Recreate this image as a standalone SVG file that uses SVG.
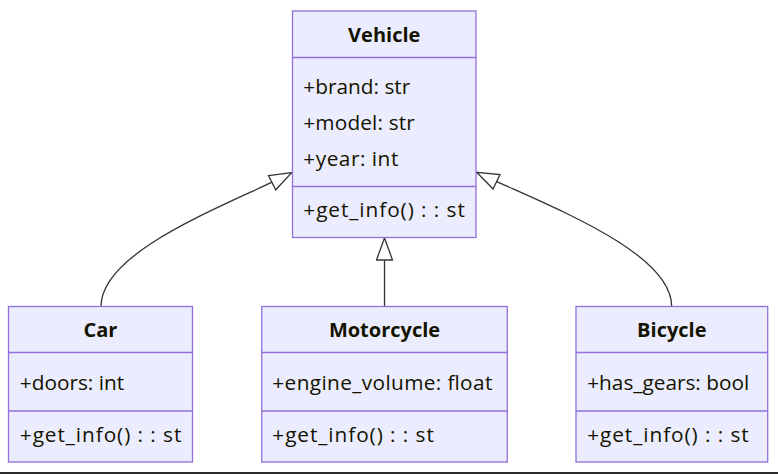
<svg xmlns="http://www.w3.org/2000/svg" width="778" height="474" viewBox="0 0 778 474">
<style>
  .box { fill: #ECECFF; stroke: #9370DB; stroke-width: 1.3; }
  .sep { stroke: #9370DB; stroke-width: 1.3; }
  .title { font-family: "Open Sans", "DejaVu Sans", sans-serif; font-size: 20px; font-weight: bold; fill: #131300; text-anchor: middle; }
  .member { font-family: "Open Sans", "DejaVu Sans", sans-serif; font-size: 20.8px; fill: #131300; }
  .edge { fill: none; stroke: #333333; stroke-width: 1.3; marker-end: url(#ext); }
</style>
<defs>
  <marker id="ext" viewBox="0 0 24 18" markerWidth="24" markerHeight="18" refX="23" refY="9" markerUnits="userSpaceOnUse" orient="auto">
    <path d="M1,1 L23,9 L1,17 Z" fill="#ffffff" stroke="#333333" stroke-width="1.3"/>
  </marker>
</defs>
<rect x="0" y="0" width="778" height="474" fill="#ffffff"/>
<g id="connectors">
  <path class="edge" d="M101,306.5 C101,250 229.3,204.5 291.7,172.7"/>
  <path class="edge" d="M384.5,306.5 L384.5,238"/>
  <path class="edge" d="M671.7,306.5 C671.7,250 539.7,202.6 476.7,172.3"/>
</g>
<g id="Vehicle">
  <rect class="box" x="292.5" y="11" width="183.5" height="226.5"/>
  <line class="sep" x1="292.5" y1="57.5" x2="476" y2="57.5"/>
  <line class="sep" x1="292.5" y1="186.5" x2="476" y2="186.5"/>
  <text class="title" x="384.2" y="41.7">Vehicle</text>
  <text class="member" x="303.3" y="94" textLength="107" lengthAdjust="spacing">+brand: str</text>
  <text class="member" x="303.3" y="130" textLength="111.5" lengthAdjust="spacing">+model: str</text>
  <text class="member" x="303.3" y="165.8" textLength="95" lengthAdjust="spacing">+year: int</text>
  <text class="member" x="303.3" y="217" textLength="161.5" lengthAdjust="spacing">+get_info() : : st</text>
</g>
<g id="Car">
  <rect class="box" x="8.5" y="306.5" width="184" height="155.5"/>
  <line class="sep" x1="8.5" y1="352.5" x2="192.5" y2="352.5"/>
  <line class="sep" x1="8.5" y1="411" x2="192.5" y2="411"/>
  <text class="title" x="100.5" y="337.3">Car</text>
  <text class="member" x="19.8" y="390" textLength="104.3" lengthAdjust="spacing">+doors: int</text>
  <text class="member" x="19.8" y="441.7" textLength="161.5" lengthAdjust="spacing">+get_info() : : st</text>
</g>
<g id="Motorcycle">
  <rect class="box" x="261.7" y="306.5" width="245.6" height="155.5"/>
  <line class="sep" x1="261.7" y1="352.5" x2="507.3" y2="352.5"/>
  <line class="sep" x1="261.7" y1="411" x2="507.3" y2="411"/>
  <text class="title" x="384.5" y="337.3">Motorcycle</text>
  <text class="member" x="272.3" y="390" textLength="220" lengthAdjust="spacing">+engine_volume: float</text>
  <text class="member" x="272.3" y="441.7" textLength="161.5" lengthAdjust="spacing">+get_info() : : st</text>
</g>
<g id="Bicycle">
  <rect class="box" x="576" y="306.5" width="191.7" height="155.5"/>
  <line class="sep" x1="576" y1="352.5" x2="767.7" y2="352.5"/>
  <line class="sep" x1="576" y1="411" x2="767.7" y2="411"/>
  <text class="title" x="671.8" y="337.3">Bicycle</text>
  <text class="member" x="587.2" y="390" textLength="162" lengthAdjust="spacing">+has_gears: bool</text>
  <text class="member" x="587.2" y="441.7" textLength="161.5" lengthAdjust="spacing">+get_info() : : st</text>
</g>
<rect x="0" y="472" width="778" height="2" fill="#2b2b2b"/>
</svg>
